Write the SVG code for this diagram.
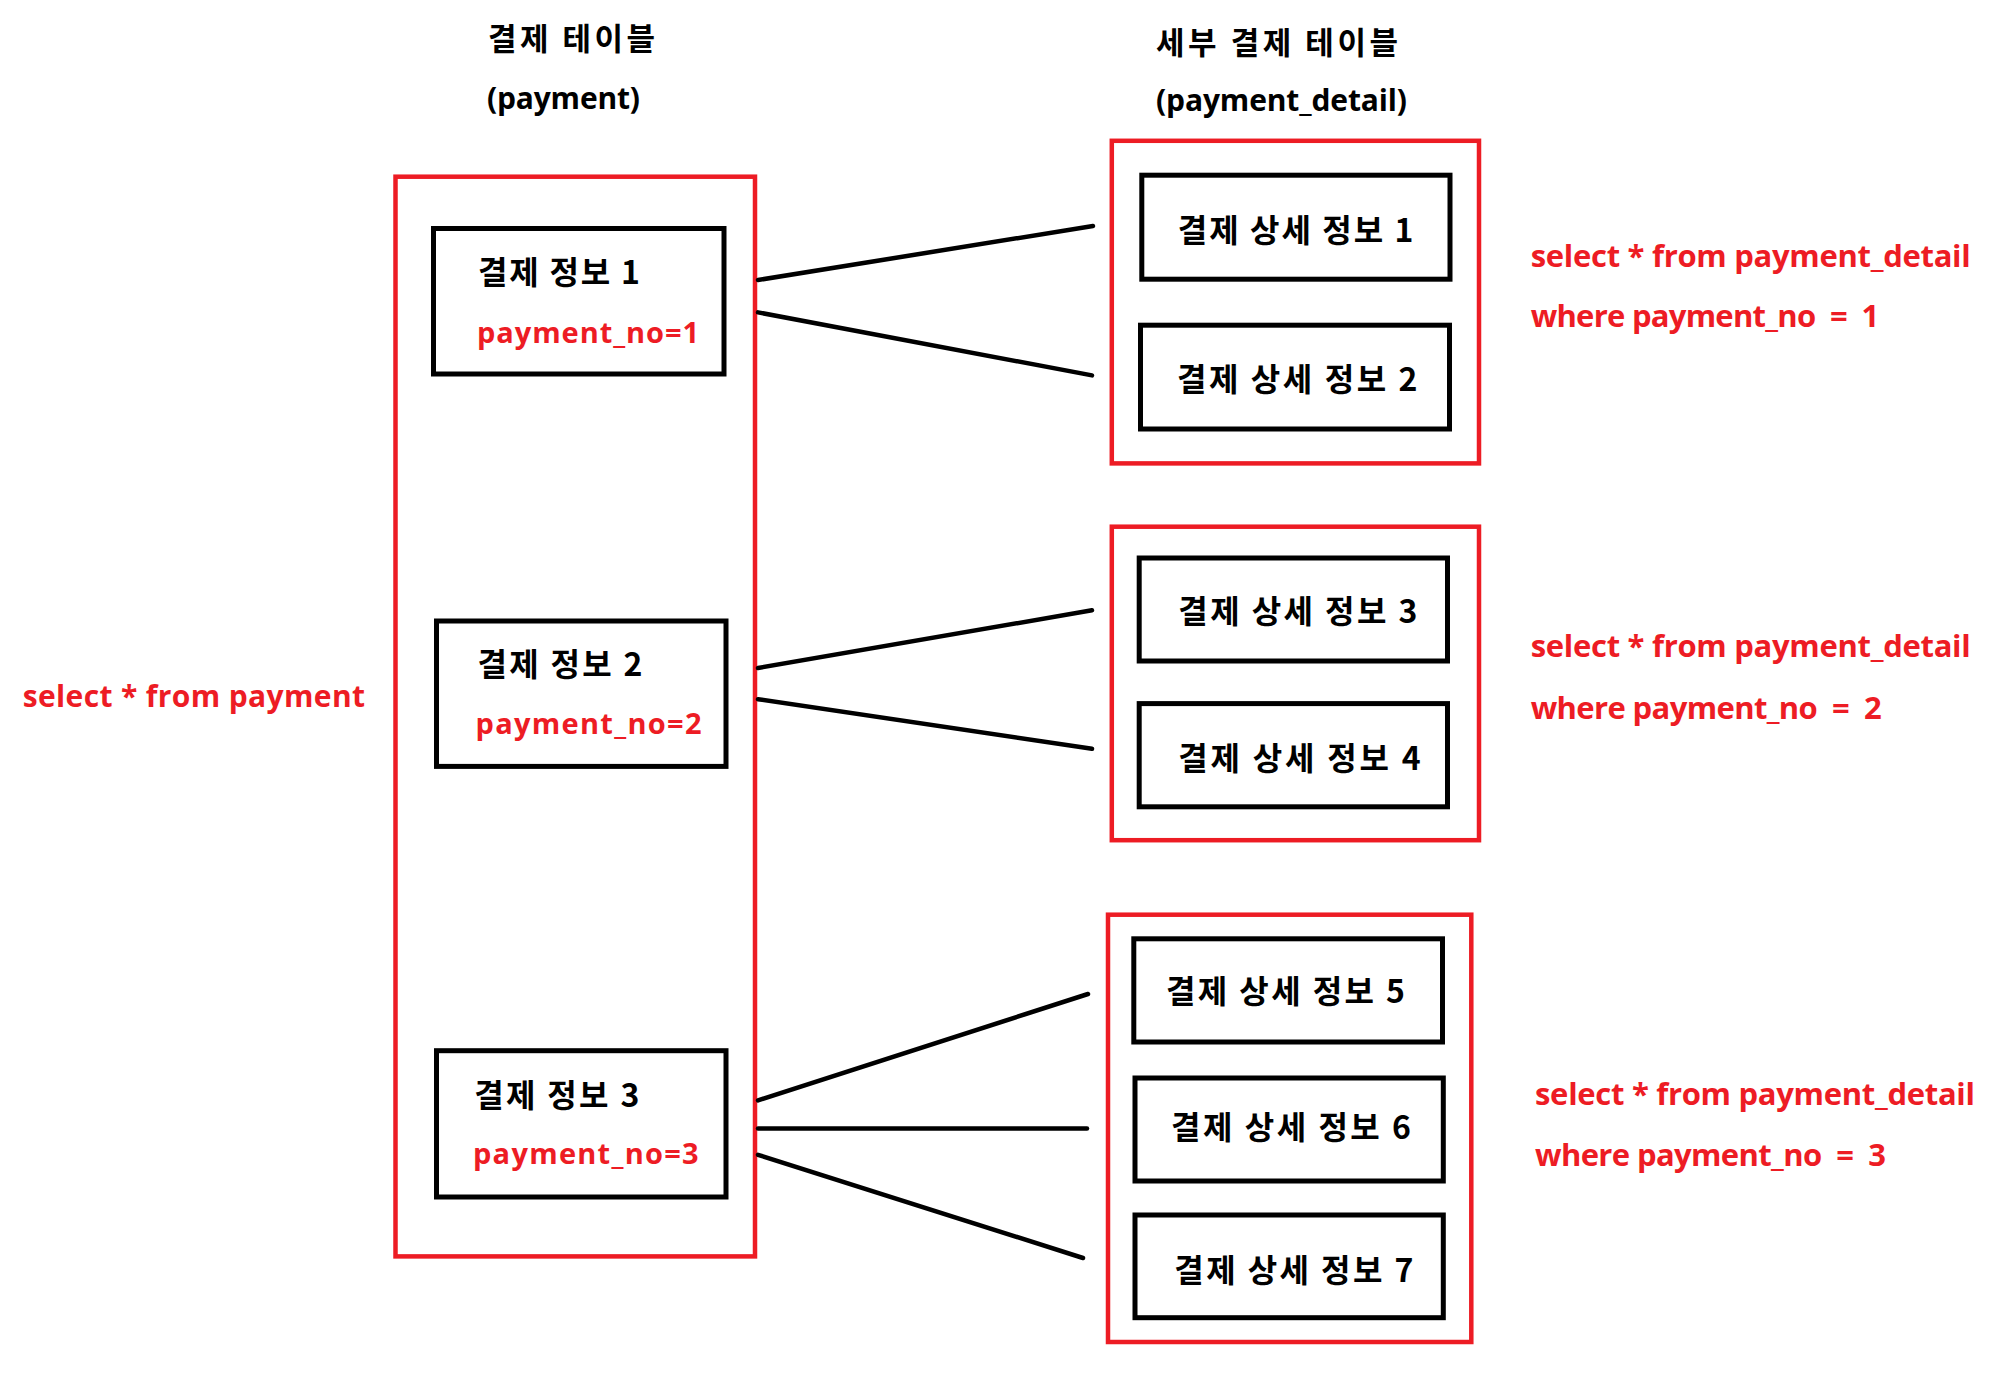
<svg xmlns="http://www.w3.org/2000/svg" width="2009" height="1375" viewBox="0 0 2009 1375">
<style>
.bg{fill:#ffffff}
.group{fill:none;stroke:#ED1C24;stroke-width:4.5}
.box{fill:#ffffff;stroke:#000000;stroke-width:5}
.conn{stroke:#000000;stroke-width:4.5;stroke-linecap:round;fill:none}
.ko{font-family:"Noto Sans CJK KR","Noto Sans",sans-serif;font-weight:700;fill:#000000}
.title{font-family:"Open Sans","Noto Sans",sans-serif;font-weight:700;fill:#000000;font-size:30px}
.red{font-family:"Open Sans","Noto Sans",sans-serif;font-weight:700;fill:#ED1C24}
</style>
<rect class="bg" x="0" y="0" width="2009" height="1375"/>

<g id="titles">
<text class="ko" x="488" y="50" font-size="31" textLength="167">결제 테이블</text>
<text class="title" x="487" y="109" textLength="153">(payment)</text>
<text class="ko" x="1156" y="54" font-size="31" textLength="242">세부 결제 테이블</text>
<text class="title" x="1156" y="111" textLength="251">(payment_detail)</text>
</g>

<g id="payment-table">
<rect class="group" x="395.5" y="176.7" width="359.5" height="1079.7"/>
</g>

<g id="payment-1">
<rect class="box" x="433.5" y="228.5" width="290.5" height="145.5"/>
<text class="ko" x="478" y="284" font-size="32" textLength="162">결제 정보 1</text>
<text class="red" x="477" y="342.7" font-size="29" textLength="222">payment_no=1</text>
</g>

<g id="payment-2">
<rect class="box" x="436.5" y="621" width="289.5" height="145.4"/>
<text class="ko" x="477.5" y="675.5" font-size="32" textLength="165">결제 정보 2</text>
<text class="red" x="475.5" y="733.5" font-size="29" textLength="226">payment_no=2</text>
</g>

<g id="payment-3">
<rect class="box" x="436.5" y="1050.7" width="289.5" height="146.3"/>
<text class="ko" x="474.3" y="1106.5" font-size="32" textLength="165">결제 정보 3</text>
<text class="red" x="473" y="1163.7" font-size="29" textLength="225.6">payment_no=3</text>
</g>

<g id="query-payment">
<text class="red" x="22.7" y="706.7" font-size="30" textLength="342.3">select * from payment</text>
</g>

<g id="detail-group-1">
<rect class="group" x="1111.8" y="140.8" width="367.2" height="322.6"/>
</g>
<g id="detail-1">
<rect class="box" x="1141.8" y="175.2" width="308.2" height="104"/>
<text class="ko" x="1177.7" y="242" font-size="32" textLength="235.6">결제 상세 정보 1</text>
</g>
<g id="detail-2">
<rect class="box" x="1140.5" y="325.2" width="309" height="103.8"/>
<text class="ko" x="1177" y="391" font-size="32" textLength="240.4">결제 상세 정보 2</text>
</g>

<g id="detail-group-2">
<rect class="group" x="1111.8" y="526.7" width="367.2" height="313.5"/>
</g>
<g id="detail-3">
<rect class="box" x="1139.2" y="558" width="308.3" height="103"/>
<text class="ko" x="1178.3" y="622.7" font-size="32" textLength="239.1">결제 상세 정보 3</text>
</g>
<g id="detail-4">
<rect class="box" x="1139.2" y="703.6" width="308.3" height="103.2"/>
<text class="ko" x="1178.3" y="769.5" font-size="32" textLength="242.3">결제 상세 정보 4</text>
</g>

<g id="detail-group-3">
<rect class="group" x="1108" y="914.7" width="363.3" height="427.3"/>
</g>
<g id="detail-5">
<rect class="box" x="1133.8" y="938.8" width="308.7" height="103.2"/>
<text class="ko" x="1166" y="1003" font-size="32" textLength="239">결제 상세 정보 5</text>
</g>
<g id="detail-6">
<rect class="box" x="1135" y="1078" width="308.3" height="103"/>
<text class="ko" x="1171" y="1139" font-size="32" textLength="240">결제 상세 정보 6</text>
</g>
<g id="detail-7">
<rect class="box" x="1135" y="1215" width="308.3" height="102.7"/>
<text class="ko" x="1174.3" y="1282" font-size="32" textLength="239">결제 상세 정보 7</text>
</g>

<g id="query-detail-1">
<text class="red" x="1530.7" y="267" font-size="31" textLength="440">select * from payment_detail</text>
<text class="red" x="1530.7" y="326.7" font-size="31" textLength="348.6" xml:space="preserve">where payment_no  =  1</text>
</g>
<g id="query-detail-2">
<text class="red" x="1530.7" y="657" font-size="31" textLength="440">select * from payment_detail</text>
<text class="red" x="1530.7" y="719" font-size="31" textLength="351" xml:space="preserve">where payment_no  =  2</text>
</g>
<g id="query-detail-3">
<text class="red" x="1535" y="1105" font-size="31" textLength="440">select * from payment_detail</text>
<text class="red" x="1535" y="1165.5" font-size="31" textLength="351" xml:space="preserve">where payment_no  =  3</text>
</g>

<g id="connectors">
<line class="conn" x1="758" y1="280" x2="1093" y2="226"/>
<line class="conn" x1="758" y1="312.4" x2="1092" y2="375.4"/>
<line class="conn" x1="758" y1="668" x2="1092" y2="610.3"/>
<line class="conn" x1="758" y1="699.2" x2="1092" y2="748.8"/>
<line class="conn" x1="758" y1="1100.4" x2="1088" y2="994"/>
<line class="conn" x1="758" y1="1128.5" x2="1087" y2="1128.5"/>
<line class="conn" x1="758" y1="1154.8" x2="1083" y2="1258"/>
</g>
</svg>
